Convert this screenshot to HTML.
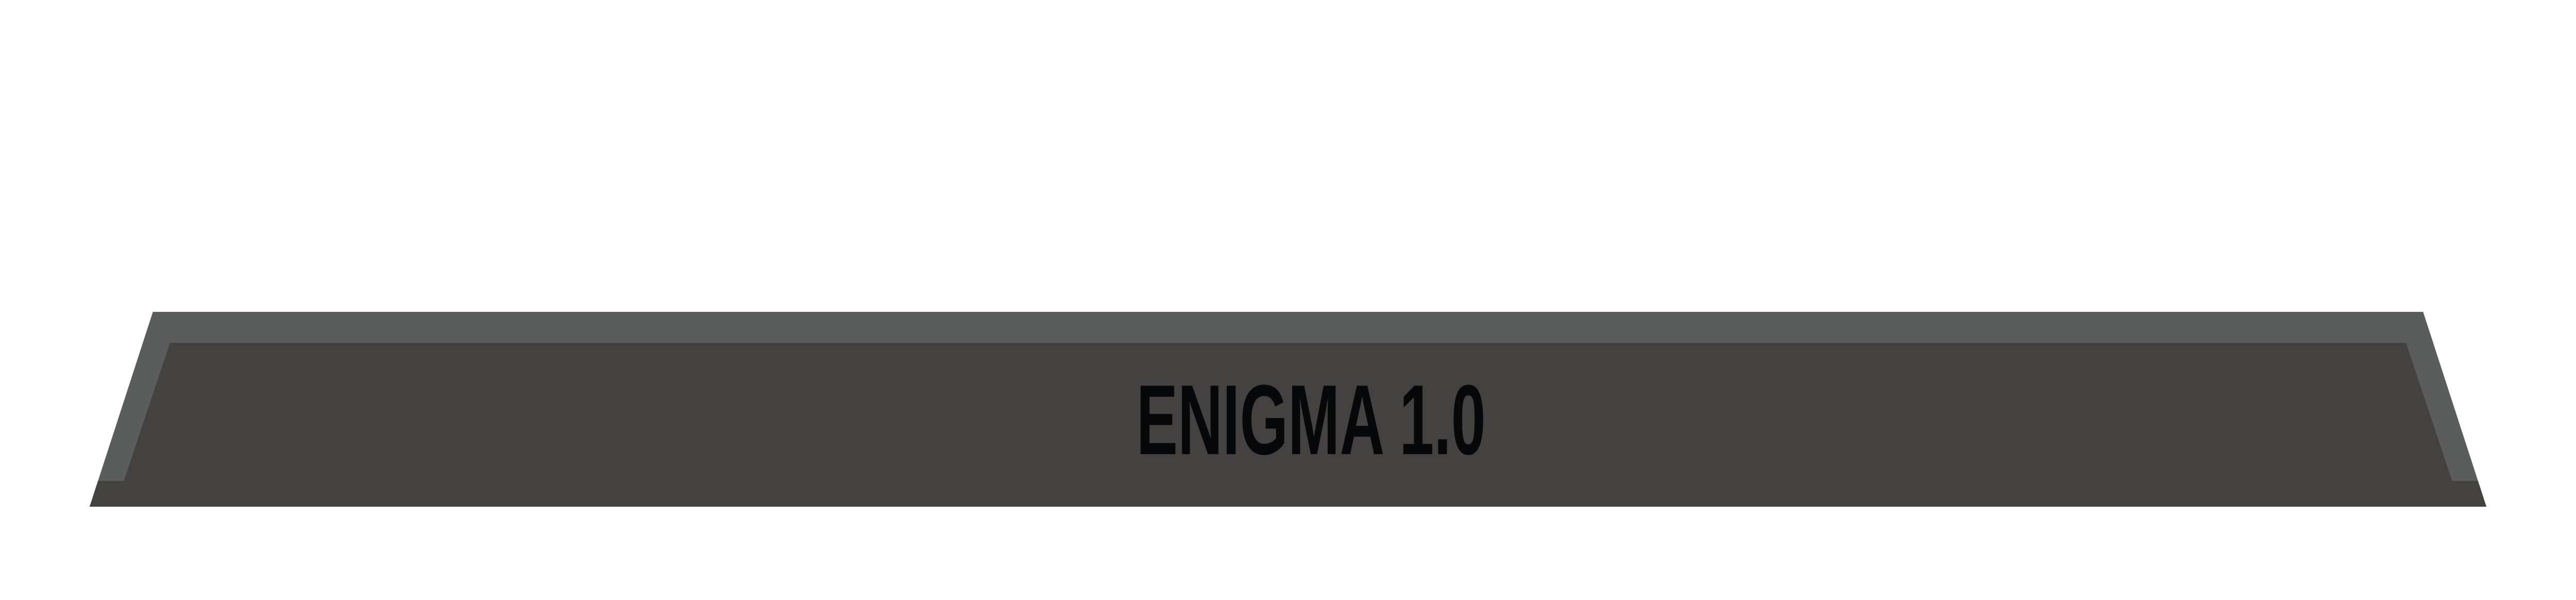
<!DOCTYPE html>
<html><head><style>html,body{margin:0;padding:0;background:#fff;overflow:hidden;width:100%;height:100%}svg{display:block;width:100vw;height:100vh}</style></head>
<body>
<svg viewBox="0 0 5864 1164" preserveAspectRatio="none" xmlns="http://www.w3.org/2000/svg">
<rect width="5864" height="1164" fill="#fff"/>
<polygon points="348,605 5516,605 5660,983 204,983" fill="#5b5d5c"/>
<polygon points="387,665 5477,665 5582,933 5641,933 5660,983 204,983 223,933 282,933" fill="#434240"/>
<text x="2587" y="881" font-family="Liberation Sans, sans-serif" font-weight="bold" font-size="193" fill="#060809" textLength="795" lengthAdjust="spacingAndGlyphs">ENIGMA 1.0</text>
</svg>
</body></html>
